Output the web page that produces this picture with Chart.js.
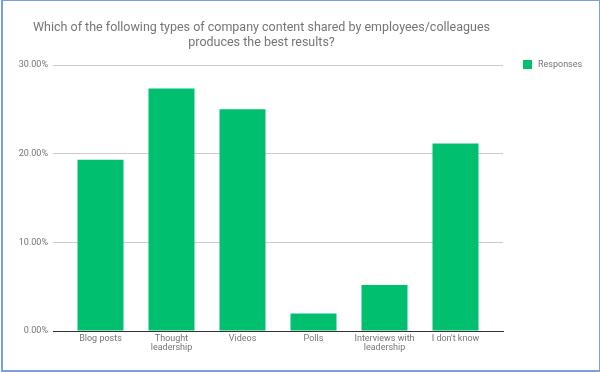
<!DOCTYPE html>
<html>
<head>
<meta charset="utf-8">
<script src="https://cdn.jsdelivr.net/npm/chart.js@4.4.1/dist/chart.umd.min.js"></script>
<style>
  html, body { margin: 0; padding: 0; background: #fff; }
  #wrap { position: relative; width: 600px; height: 372px; overflow: hidden; font-family: Roboto, "Noto Sans", sans-serif; }
  #frame { position: absolute; left: 1px; top: 0; width: 596px; height: 369px; border-style: solid; border-color: #7aa0dc; border-width: 1px 2px 2px 2px; box-sizing: content-box; pointer-events: none; }
  #title { position: absolute; left: 0; width: 523px; top: 19px; text-align: center; color: #757575; font-size: 12.5px; line-height: 15px; }
  #legend { position: absolute; left: 523px; top: 59px; font-size: 9px; color: #757575; display: flex; align-items: center; }
  #legend .sw { width: 9px; height: 9px; margin-right: 6px; }
  canvas { position: absolute; left: 0; top: 0; }
</style>
</head>
<body>
<div id="wrap">
  <canvas id="c" width="600" height="372"></canvas>
  <div id="title">Which of the following types of company content shared by employees/colleagues<br>produces the best results?</div>
  <div id="legend"><span class="sw" id="sw"></span><span id="lt"></span></div>
  <div id="frame"></div>
</div>
<script>
const categories = ["Blog posts", ["Thought", "leadership"], "Videos", "Polls", ["Interviews with", "leadership"], "I don't know"];
const seriesName = "Responses";
const responses = [19.32, 27.36, 25.0, 1.96, 5.19, 21.16];
const yTicks = [0, 10, 20, 30];
const barColor = "#00bf6f";

document.getElementById('sw').style.background = barColor;
document.getElementById('lt').textContent = seriesName;

const extra = 0.169;
new Chart(document.getElementById('c'), {
  type: 'bar',
  data: {
    labels: categories,
    datasets: [{
      label: seriesName,
      data: responses,
      backgroundColor: barColor,
      borderWidth: 0,
      categoryPercentage: 1,
      barPercentage: 0.648
    }]
  },
  options: {
    responsive: false,
    animation: false,
    devicePixelRatio: 1,
    layout: { padding: { left: 0, right: 97, top: 65, bottom: 0 } },
    plugins: { legend: { display: false }, title: { display: false }, tooltip: { enabled: false } },
    scales: {
      x: {
        grid: { display: false, drawTicks: false },
        border: { display: true, color: '#333333', width: 1 },
        ticks: { color: '#757575', font: { family: 'Roboto', size: 9, lineHeight: 1.05 }, padding: 3, maxRotation: 0, autoSkip: false },
        afterFit: s => { s.height = 41; },
        afterBuildTicks: s => {
          const n = s.getLabels().length;
          s._startValue = -0.5 - extra;
          s._valueRange = n + 2 * extra;
        }
      },
      y: {
        min: 0, max: 30,
        afterBuildTicks: s => { s.ticks = yTicks.map(v => ({ value: v })); },
        grid: { color: '#cccccc', drawTicks: false, lineWidth: 1 },
        border: { display: false },
        ticks: { color: '#757575', font: { family: 'Roboto', size: 9 }, padding: 5, callback: v => v.toFixed(2) + '%' },
        afterFit: s => { s.width = 53; }
      }
    }
  }
});
</script>
</body>
</html>
